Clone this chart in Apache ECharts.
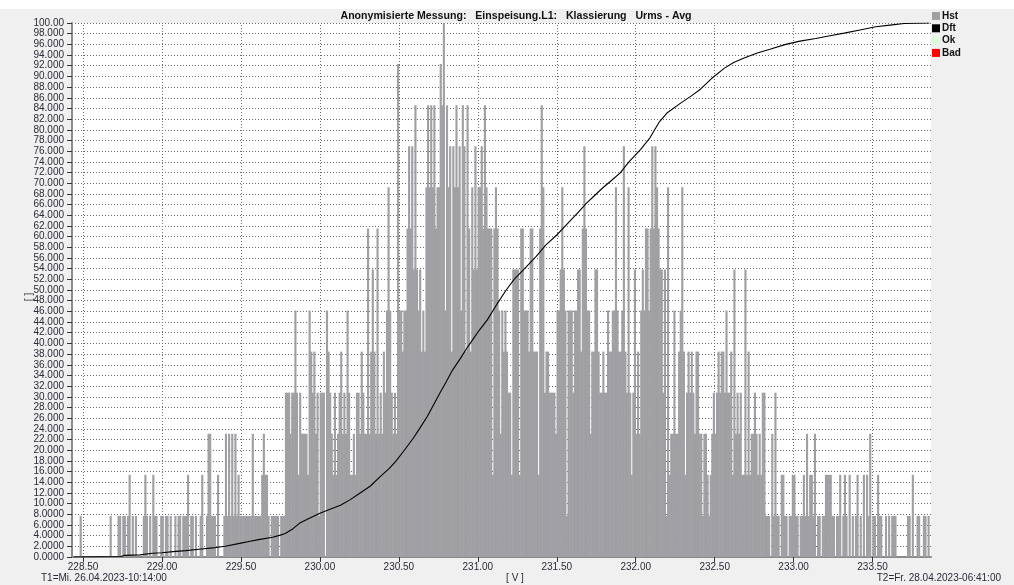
<!DOCTYPE html>
<html><head><meta charset="utf-8">
<script src="https://cdn.jsdelivr.net/npm/echarts@6/dist/echarts.min.js"></script>
<style>html,body{margin:0;padding:0;background:#f0f0f0;}#c{width:1014px;height:585px;}</style>
</head><body><div id="c"></div>
<script>
// histogram bins: 0.01 V wide, starting at 228.43 V
const BIN_START = 228.43;
const BIN_WIDTH = 0.01;
const MAX_COUNT = 13; // tallest bin = 100 %
const HST_COUNTS = [
  0,0,0,0,0,1,0,
  0,0,0,0,0,0,0,0,0,0,
  0,0,0,0,0,0,0,1,0,0,
  0,0,1,1,0,1,1,0,1,2,
  0,1,0,1,0,0,0,0,1,2,
  1,0,1,0,2,1,1,0,0,1,
  1,0,1,1,0,1,0,0,1,0,
  1,1,0,1,1,1,2,0,1,1,
  0,1,0,0,1,2,0,0,1,3,
  3,1,1,1,0,2,0,0,0,1,
  3,1,3,1,3,1,3,1,2,1,
  1,1,1,1,1,1,1,3,1,1,
  1,1,1,2,3,2,2,1,0,1,
  1,1,1,1,0,1,1,1,4,4,
  4,3,4,4,6,4,2,4,3,3,
  3,3,2,6,5,4,5,3,4,1,
  4,4,4,0,6,5,4,3,2,4,
  2,3,4,5,3,4,3,6,4,2,
  2,3,2,4,4,3,5,4,3,3,
  8,3,5,7,5,3,8,3,4,3,
  5,4,6,9,6,4,3,4,3,12,
  6,6,5,6,6,8,10,8,10,7,
  11,7,6,7,5,6,5,9,11,9,
  11,9,11,8,9,9,12,11,13,6,
  11,9,10,5,10,9,11,9,10,6,
  11,10,5,11,8,5,9,7,10,7,
  9,9,10,8,11,9,8,8,8,2,
  8,9,8,6,3,6,5,6,5,4,
  4,2,7,7,7,7,2,8,8,6,
  6,6,5,8,8,5,5,5,2,8,
  11,9,4,5,5,4,4,4,4,3,
  6,6,7,9,7,6,1,6,6,6,
  4,6,6,7,7,5,8,10,8,6,
  6,3,5,5,7,7,5,4,4,5,
  4,4,6,5,5,6,6,9,6,5,
  5,6,10,5,4,9,4,2,4,7,
  3,5,3,6,7,6,8,8,6,8,
  10,8,10,9,8,7,7,4,7,1,
  9,2,3,3,6,3,3,5,6,9,
  5,2,4,5,4,5,4,3,5,5,
  3,3,1,3,3,2,1,2,3,4,
  3,4,5,4,5,5,4,6,4,4,
  5,2,7,3,4,3,4,2,2,7,
  2,5,2,3,3,4,3,2,3,2,
  4,4,1,1,1,0,3,1,4,1,
  1,0,2,2,1,1,0,1,1,2,
  2,1,1,0,1,1,2,1,3,1,
  2,2,1,3,0,1,1,0,1,1,
  2,2,2,2,1,1,0,1,1,2,
  0,1,2,1,0,2,0,1,0,1,
  2,0,1,0,2,0,2,1,3,0,
  1,1,0,2,1,1,0,0,1,0,
  1,0,1,1,1,0,0,0,0,0,
  0,0,1,1,0,2,0,0,1,1,
  0,0,1,1,0,1,0
];
// cumulative curve (Dft): [V, %]
const DFT_POINTS = [
  [228.44,0],[228.74,0.1],[228.76,0.3],[228.86,0.4],[228.94,0.7],[229.00,0.8],[229.07,1.0],
  [229.15,1.2],[229.25,1.5],[229.32,1.7],[229.40,2.0],[229.50,2.6],[229.55,2.9],[229.62,3.3],
  [229.70,3.7],[229.75,4.1],[229.78,4.4],[229.83,5.3],[229.87,6.3],[229.93,7.2],[230.00,8.2],
  [230.06,8.9],[230.13,9.7],[230.19,10.7],[230.25,11.9],[230.32,13.3],[230.38,15.0],[230.44,16.6],
  [230.48,17.9],[230.53,19.8],[230.59,22.2],[230.63,24.0],[230.68,26.3],[230.72,28.5],[230.76,30.7],
  [230.80,32.8],[230.84,35.0],[230.89,37.2],[230.93,39.1],[230.97,40.8],[231.01,42.5],[231.06,44.4],
  [231.12,47.3],[231.18,50.0],[231.23,52.0],[231.29,53.8],[231.37,56.3],[231.43,58.4],[231.50,60.3],
  [231.58,62.8],[231.64,64.7],[231.69,66.3],[231.74,67.7],[231.79,69.1],[231.85,70.6],[231.90,71.9],
  [231.96,74.1],[232.03,76.3],[232.09,78.5],[232.15,81.5],[232.20,83.2],[232.28,84.9],[232.35,86.3],
  [232.41,87.6],[232.48,89.6],[232.56,91.5],[232.62,92.6],[232.69,93.5],[232.77,94.4],[232.85,95.1],
  [232.95,96.0],[233.04,96.6],[233.14,97.1],[233.23,97.6],[233.32,98.1],[233.42,98.7],[233.52,99.3],
  [233.61,99.6],[233.70,99.9],[233.86,100]
];
const X_TICKS = [228.5,229.0,229.5,230.0,230.5,231.0,231.5,232.0,232.5,233.0,233.5];
const X_MIN = 228.43, X_MAX = 233.87;
const Y_MIN = 0, Y_MAX = 100, Y_STEP = 2;
const LEGEND_NAMES = ['Hst','Dft','Ok','Bad'];
const COLORS = {Hst:'#a0a0a4', Dft:'#000000', Ok:'#dcfadc', Bad:'#ff0000'};
const TITLE = 'Anonymisierte Messung:   Einspeisung.L1:   Klassierung   Urms - Avg';
const T1 = 'T1=Mi. 26.04.2023-10:14:00';
const T2 = 'T2=Fr. 28.04.2023-06:41:00';
const X_UNIT = '[ V ]';
const Y_UNIT = '[ ]';

const FONT = 'Liberation Sans, Arial, sans-serif';
const hstData = HST_COUNTS.map((c, i) => [BIN_START + (i + 0.5) * BIN_WIDTH, c * 100 / MAX_COUNT]);

function yFmt(v) {
  if (v >= 100) return v.toFixed(2);
  if (v >= 10) return v.toFixed(3);
  return v.toFixed(4);
}

const chart = echarts.init(document.getElementById('c'), null, {renderer: 'canvas'});
chart.setOption({
  animation: false,
  backgroundColor: '#f0f0f0',
  grid: {left: 72, right: 83, top: 23, bottom: 28, show: true, backgroundColor: '#ffffff', borderWidth: 0, outerBoundsMode: 'none', containLabel: false},
  legend: {
    orient: 'vertical', left: 932, top: 11, padding: 0, itemWidth: 8, itemHeight: 8, itemGap: 2.3,
    icon: 'rect', selectedMode: false, data: LEGEND_NAMES,
    textStyle: {fontFamily: FONT, fontSize: 10, fontWeight: 'bold', color: '#111', padding: [0, 0, 0, -3]}
  },
  xAxis: {
    type: 'value', min: X_MIN, max: X_MAX,
    axisLine: {show: true, onZero: false, lineStyle: {color: '#8a8a8a', width: 2}},
    axisTick: {show: true, length: 5, customValues: X_TICKS, lineStyle: {color: '#333'}},
    axisLabel: {customValues: X_TICKS, margin: 5, fontFamily: FONT, fontSize: 10, color: '#2a2a38',
      formatter: v => v.toFixed(2)},
    splitLine: {show: false}
  },
  yAxis: {
    type: 'value', min: Y_MIN, max: Y_MAX, interval: Y_STEP,
    axisLine: {show: true, lineStyle: {color: '#8a8a8a', width: 2}},
    axisTick: {show: true, length: 5, lineStyle: {color: '#333'}},
    axisLabel: {margin: 8, fontFamily: FONT, fontSize: 10, color: '#2a2a38', formatter: yFmt},
    splitLine: {show: true, lineStyle: {color: '#6a6a6a', type: [1, 2], width: 1}}
  },
  series: [
    {
      name: 'Hst', type: 'bar', data: hstData, barWidth: '135%',
      itemStyle: {color: COLORS.Hst}, z: 2,
      markLine: {
        silent: true, symbol: 'none', label: {show: false},
        lineStyle: {color: '#6a6a6a', type: [1, 2], width: 1},
        data: X_TICKS.map(v => ({xAxis: v})), z: 1
      }
    },
    {
      name: 'Dft', type: 'line', data: DFT_POINTS, showSymbol: false, symbol: 'none',
      lineStyle: {color: COLORS.Dft, width: 1.1}, itemStyle: {color: COLORS.Dft}, z: 5
    },
    {name: 'Ok', type: 'line', data: [], itemStyle: {color: COLORS.Ok}, lineStyle: {color: COLORS.Ok}},
    {name: 'Bad', type: 'line', data: [], itemStyle: {color: COLORS.Bad}, lineStyle: {color: COLORS.Bad}}
  ],
  graphic: [
    {type: 'rect', shape: {x: 0, y: 0, width: 1014, height: 9}, style: {fill: '#ffffff'}, silent: true},
    {type: 'text', x: 516, y: 16, style: {text: TITLE, fontFamily: FONT, fontSize: 10.6, fontWeight: 'bold', fill: '#111', textAlign: 'center', textVerticalAlign: 'middle'}},
    {type: 'text', x: 29, y: 297, rotation: Math.PI / 2, style: {text: Y_UNIT, fontFamily: FONT, fontSize: 10, fill: '#2a2a38', textAlign: 'center', textVerticalAlign: 'middle'}},
    {type: 'text', x: 515, y: 578, style: {text: X_UNIT, fontFamily: FONT, fontSize: 10, fill: '#2a2a38', textAlign: 'center', textVerticalAlign: 'middle'}},
    {type: 'text', x: 41, y: 578, style: {text: T1, fontFamily: FONT, fontSize: 10, fill: '#2a2a38', textAlign: 'left', textVerticalAlign: 'middle'}},
    {type: 'text', x: 1001, y: 578, style: {text: T2, fontFamily: FONT, fontSize: 10, fill: '#2a2a38', textAlign: 'right', textVerticalAlign: 'middle'}}
  ]
});
</script></body></html>
